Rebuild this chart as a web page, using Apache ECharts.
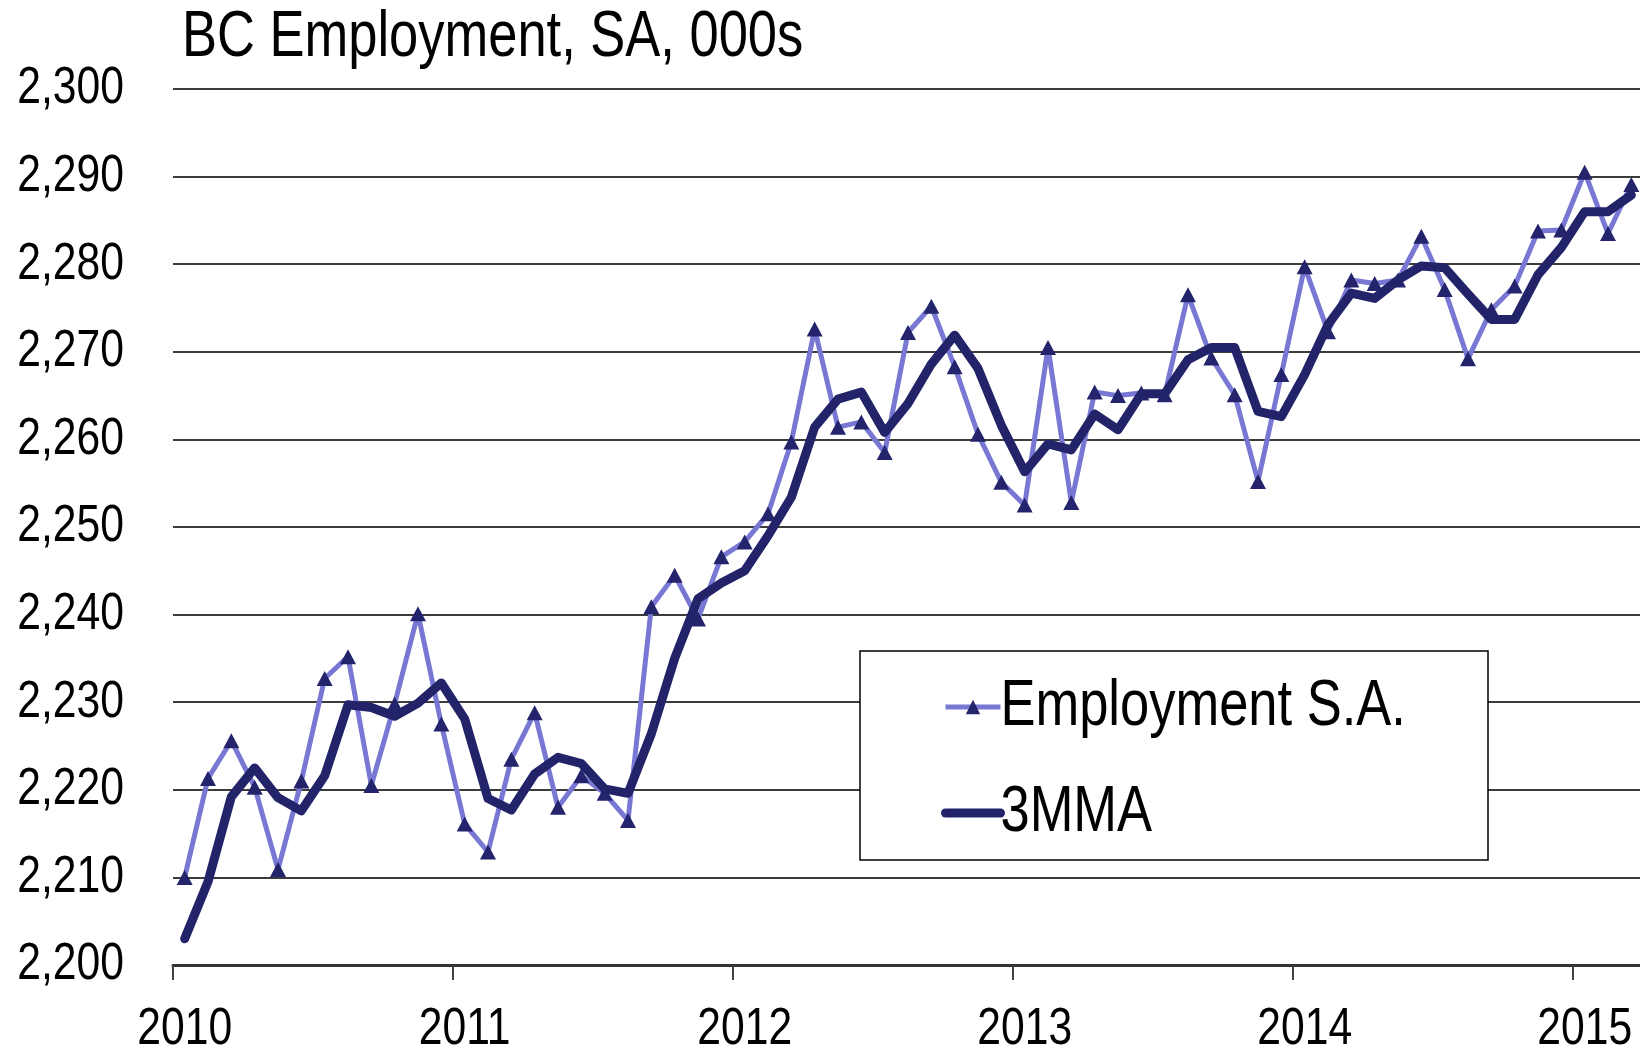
<!DOCTYPE html>
<html><head><meta charset="utf-8">
<script src="https://cdn.jsdelivr.net/npm/echarts@6/dist/echarts.min.js"></script>
<style>html,body{margin:0;padding:0;background:#fff}#c{width:1640px;height:1055px}</style>
</head><body><div id="c"></div>
<script>
const chartTitle = 'BC Employment, SA, 000s';
const years = ['2010', '2011', '2012', '2013', '2014', '2015'];
const monthsPerYear = [12, 12, 12, 12, 12, 3];
const categories = [];
years.forEach((y, k) => {
  for (let m = 1; m <= monthsPerYear[k]; m++) categories.push(y + '-' + String(m).padStart(2, '0'));
});

const employmentSA = [
  2210.0, 2221.3, 2225.6, 2220.3, 2210.9, 2221.0, 2232.7, 2235.2, 2220.5, 2229.8, 2240.1, 2227.5,
  2216.1, 2212.9, 2223.5, 2228.8, 2218.0, 2221.6, 2219.6, 2216.5, 2240.9, 2244.5, 2239.5, 2246.6,
  2248.3, 2251.5, 2259.7, 2272.6, 2261.4, 2262.0, 2258.5, 2272.2, 2275.2, 2268.3, 2260.6, 2255.1,
  2252.5, 2270.5, 2252.8, 2265.4, 2265.0, 2265.3, 2265.1, 2276.5, 2269.3, 2265.1, 2255.2, 2267.4,
  2279.7, 2272.3, 2278.2, 2277.8, 2278.2, 2283.2, 2277.1, 2269.2, 2274.8, 2277.5, 2283.8, 2283.9,
  2290.5, 2283.5, 2289.1
];
const mma3 = [
  2203.0, 2209.5, 2219.2, 2222.5, 2219.1, 2217.6, 2221.6, 2229.7, 2229.4, 2228.4, 2229.9, 2232.2,
  2228.1, 2219.0, 2217.7, 2221.8, 2223.7, 2223.0, 2220.1, 2219.6, 2226.4, 2235.0, 2241.8, 2243.6,
  2245.0, 2249.0, 2253.4, 2261.4, 2264.6, 2265.4, 2260.8, 2264.1, 2268.6, 2271.9, 2268.1, 2261.6,
  2256.3, 2259.5, 2258.8, 2262.9, 2261.1, 2265.2, 2265.2, 2269.1, 2270.5, 2270.5, 2263.2, 2262.6,
  2267.4, 2273.1, 2276.7, 2276.1, 2278.2, 2279.8, 2279.6, 2276.6, 2273.7, 2273.7, 2278.8, 2281.9,
  2286.0, 2286.0, 2287.9
];
const yMin = 2200, yMax = 2300, yStep = 10;
const seriesNames = ['Employment S.A.', '3MMA'];

const FONT = "'Liberation Sans', Arial, sans-serif";
const NARROW = 0.82; // Arial Narrow look: Arial metrics compressed horizontally
const SA_LINE = '#7878d4', MARKER = '#24246c', MA_LINE = '#232369';

const chart = echarts.init(document.getElementById('c'), null, {renderer: 'canvas'});
chart.setOption({
  animation: false,
  backgroundColor: '#ffffff',
  title: {
    text: chartTitle, left: 182, top: 6, padding: 0,
    textStyle: {fontFamily: FONT, fontSize: 64, fontWeight: 'normal', color: '#000'}
  },
  grid: {left: 173, right: -3, top: 89, bottom: 90, containLabel: false, outerBoundsMode: 'none'},
  xAxis: {
    type: 'category', data: categories, boundaryGap: true,
    axisLine: {show: true, lineStyle: {color: '#333', width: 3}},
    axisTick: {show: true, interval: 11, length: 15, lineStyle: {color: '#404040', width: 2}},
    axisLabel: {
      interval: 11, margin: 39, color: '#000', fontFamily: FONT, fontSize: 52,
      hideOverlap: false,
      formatter: v => v.slice(0, 4)
    },
    splitLine: {show: false}
  },
  yAxis: {
    type: 'value', min: yMin, max: yMax, interval: yStep,
    axisLine: {show: false}, axisTick: {show: false},
    axisLabel: {
      margin: 49, color: '#000', fontFamily: FONT, fontSize: 52,
      formatter: v => String(v).replace(/\B(?=(\d{3})+(?!\d))/g, ',')
    },
    splitLine: {show: true, lineStyle: {color: '#3c3c3c', width: 2}}
  },
  legend: {
    orient: 'vertical', left: 941, top: 675, padding: 0, itemGap: 42,
    itemWidth: 55, itemHeight: 18,
    textStyle: {fontFamily: FONT, fontSize: 64, color: '#000', lineHeight: 64, padding: [0, 0, 0, 7]},
    data: [
      {name: seriesNames[0], lineStyle: {width: 5, color: SA_LINE}, itemStyle: {color: MARKER}},
      {name: seriesNames[1], lineStyle: {width: 9, color: MA_LINE, cap: 'round'}, itemStyle: {opacity: 0}}
    ],
    z: 10
  },
  graphic: [{
    type: 'rect', z: 8, silent: true,
    shape: {x: 860, y: 651, width: 628, height: 209},
    style: {fill: '#fff', stroke: '#000', lineWidth: 1.5}
  }],
  series: [
    {
      name: seriesNames[0], type: 'line', data: employmentSA,
      symbol: 'triangle', symbolSize: [16, 15], showSymbol: true,
      lineStyle: {color: SA_LINE, width: 5},
      itemStyle: {color: MARKER},
      emphasis: {disabled: true}, z: 2
    },
    {
      name: seriesNames[1], type: 'line', data: mma3,
      symbol: 'none',
      lineStyle: {color: MA_LINE, width: 9, cap: 'round', join: 'round'},
      itemStyle: {color: MA_LINE},
      emphasis: {disabled: true}, z: 3
    }
  ]
});

// compress every text horizontally around its anchor to get the narrow typeface look
(function narrowTexts() {
  const zr = chart.getZr();
  function walk(el) {
    if (!el) return;
    if (el.type === 'text') {
      if (el.scaleX !== NARROW) { el.scaleX = NARROW; el.markRedraw && el.markRedraw(); }
      return;
    }
    if (el.isGroup && el.childrenRef) el.childrenRef().forEach(walk);
  }
  zr.storage.getRoots().forEach(walk);
  zr.refreshImmediately();
})();
</script></body></html>
